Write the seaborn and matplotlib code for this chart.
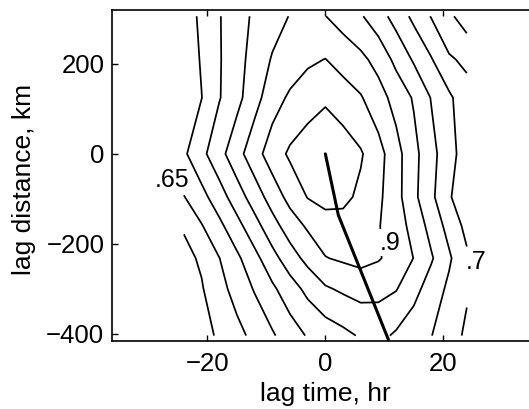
import numpy as np
import matplotlib
matplotlib.use("Agg")
import matplotlib.pyplot as plt
import seaborn as sns

# Grid of lag correlation: columns are lag time (hr), rows are lag distance (km)
lag_time = [-24, -21, -18, -15, -12, -9, -6, -3, 0, 3, 6, 9, 12, 15, 18, 21, 24]
lag_distance = [306, 210, 125, 0, -96, -160, -232, -300, -404]

corr_p306 = [.674, .710, .747, .780, .808, .830, .852, .865, .851, .828, .805, .771, .731, .688, .647, .610, .574]
corr_p210 = [.664, .705, .746, .782, .819, .854, .872, .892, .901, .882, .862, .833, .787, .744, .703, .656, .640]
corr_p125 = [.657, .699, .747, .785, .832, .878, .908, .925, .940, .922, .904, .870, .832, .795, .747, .709, .668]
corr_0 = [.692, .737, .783, .832, .880, .925, .958, .979, 1.000, .978, .955, .918, .868, .815, .765, .719, .674]
corr_m96 = [.648, .684, .728, .776, .824, .872, .916, .952, .967, .962, .940, .910, .868, .812, .760, .707, .655]
corr_m160 = [.605, .647, .688, .734, .782, .831, .875, .907, .928, .932, .916, .903, .874, .833, .782, .733, .686]
corr_m232 = [.586, .607, .649, .690, .735, .783, .827, .865, .898, .907, .915, .904, .882, .849, .805, .757, .708]
corr_m300 = [.559, .596, .633, .669, .704, .741, .778, .813, .844, .858, .869, .865, .853, .816, .777, .740, .706]
corr_m404 = [.553, .581, .608, .635, .664, .694, .726, .754, .771, .787, .805, .813, .793, .772, .751, .722, .691]

levels = [0.6, 0.65, 0.7, 0.75, 0.8, 0.85, 0.9, 0.95]

# Path of the correlation maximum
path_time = [0, 2.2, 10.7]
path_distance = [0, -136, -413]

# Contour value annotations
label_text = [".65", ".9", ".7"]
label_time = [-26.0, 10.95, 25.6]
label_distance = [-58, -198, -241]

sns.set_theme(style="ticks")
plt.rcParams["font.family"] = ["Liberation Sans", "DejaVu Sans"]
plt.rcParams["axes.unicode_minus"] = True

W, H = 529, 409
fig = plt.figure(figsize=(W / 100, H / 100), dpi=100)
ax_left, ax_right, ax_top, ax_bottom = 112, 538.7, 9.5, 341
ax = fig.add_axes([ax_left / W, (H - ax_bottom) / H,
                   (ax_right - ax_left) / W, (ax_bottom - ax_top) / H])

grid = np.array([corr_p306, corr_p210, corr_p125, corr_0, corr_m96,
                 corr_m160, corr_m232, corr_m300, corr_m404])
ax.contour(lag_time, lag_distance[::-1], grid[::-1], levels=levels,
           colors="black", linewidths=1.25, zorder=2)

sns.lineplot(x=path_time, y=path_distance, color="black", linewidth=2.2,
             sort=False, estimator=None, ax=ax, zorder=3)

for txt, tx, dy in zip(label_text, label_time, label_distance):
    kw = {}
    if txt == ".9":
        kw["bbox"] = dict(facecolor="white", edgecolor="none", pad=1.0)
    ax.text(tx, dy, txt, ha="center", va="center", fontsize=18,
            color="black", zorder=4, **kw)

ax.set_xlim(-36.2, 36.2)
ax.set_ylim(-416, 321)
ax.set_xticks([-20, 0, 20])
ax.set_yticks([-400, -200, 0, 200])
ax.tick_params(axis="both", direction="in", length=4, width=1,
               labelsize=18.5, colors="black", top=True, right=True)
ax.tick_params(axis="x", pad=8)
ax.tick_params(axis="y", pad=5.5)
for side in ["left", "bottom", "top", "right"]:
    ax.spines[side].set_visible(True)
    ax.spines[side].set_color("black")
    ax.spines[side].set_linewidth(1.2)

ax.set_xlabel("lag time, hr", fontsize=19, color="black")
ax.set_ylabel("lag distance, km", fontsize=19, color="black")
ax.xaxis.set_label_coords(0.5, -0.125)
ax.yaxis.set_label_coords(-0.179, 0.486)

fig.savefig("out.png", dpi=100)
